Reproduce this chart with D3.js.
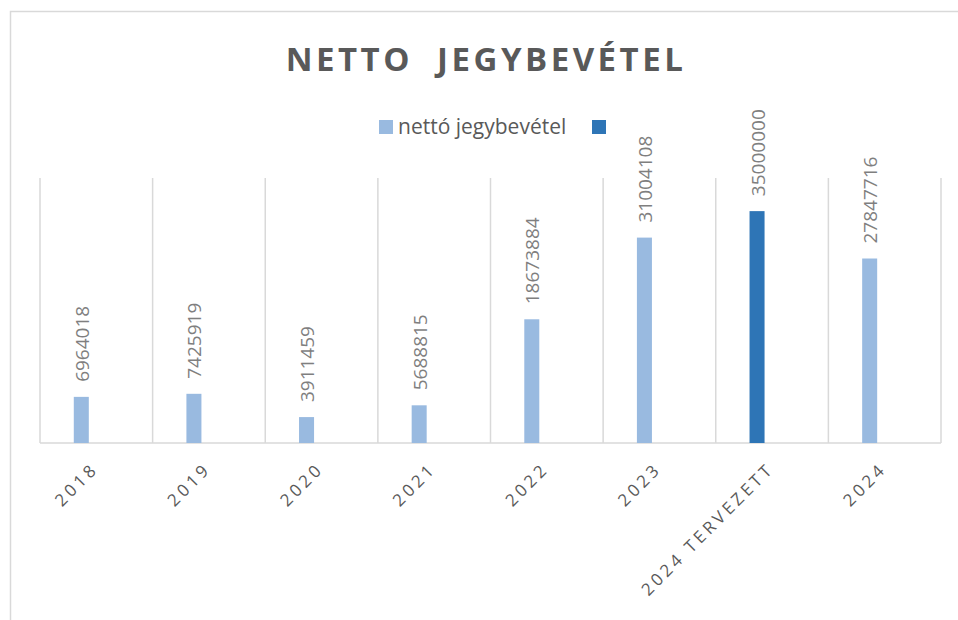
<!DOCTYPE html>
<html>
<head>
<meta charset="utf-8">
<script src="https://cdn.jsdelivr.net/npm/d3@7"></script>
<style>
  body { margin: 0; background: #fff; }
  svg { display: block; font-family: "Open Sans", "Liberation Sans", sans-serif; }
</style>
</head>
<body>
<svg id="chart" width="958" height="620"></svg>
<script>
// adatok
var categories = ["2018", "2019", "2020", "2021", "2022", "2023", "2024 TERVEZETT", "2024"];
var values = [6964018, 7425919, 3911459, 5688815, 18673884, 31004108, 35000000, 27847716];
var planned = "2024 TERVEZETT";
var seriesNames = ["nettó jegybevétel", ""];

var colLight = "#99bae0", colDark = "#2e75b6", gridCol = "#d9d9d9";

var svg = d3.select("#chart");
var plot = {left: 40, right: 941, top: 178, bottom: 443};

// outer frame
svg.append("rect")
  .attr("x", 10.5).attr("y", 11.5)
  .attr("width", 1000).attr("height", 1000)
  .attr("fill", "none").attr("stroke", gridCol).attr("stroke-width", 1.5);

var x = d3.scaleBand().domain(categories).range([plot.left, plot.right]).padding(0);
// 3 slots per category, bar sits in the first one
var xs = d3.scaleBand().domain(["s1", "s2", "s3"]).range([0, x.bandwidth()])
  .paddingInner(0).paddingOuter(2.25);
var y = d3.scaleLinear().domain([0, 40000000]).range([plot.bottom, plot.top]);

// vertical gridlines between categories
var edges = categories.map(function(c){ return x(c); }).concat([plot.right]);
svg.append("g").selectAll("line")
  .data(edges)
  .enter().append("line")
  .attr("x1", function(d){ return d; }).attr("x2", function(d){ return d; })
  .attr("y1", plot.top).attr("y2", plot.bottom)
  .attr("stroke", gridCol).attr("stroke-width", 1.5);

svg.append("line")
  .attr("x1", plot.left).attr("x2", plot.right)
  .attr("y1", plot.bottom).attr("y2", plot.bottom)
  .attr("stroke", gridCol).attr("stroke-width", 1.5);

// bars
svg.append("g").selectAll("rect")
  .data(values)
  .enter().append("rect")
  .attr("x", function(d, i){ return x(categories[i]) + xs("s1"); })
  .attr("width", xs.bandwidth())
  .attr("y", function(d){ return y(d); })
  .attr("height", function(d){ return y(0) - y(d); })
  .attr("fill", function(d, i){ return categories[i] == planned ? colDark : colLight; });

// data labels (rotated)
svg.append("g").selectAll("text")
  .data(values)
  .enter().append("text")
  .attr("transform", function(d, i){
    var cx = x(categories[i]) + xs("s1") + xs.bandwidth() / 2;
    return "translate(" + (cx + 7.5) + "," + (y(d) - 15) + ") rotate(-90)";
  })
  .attr("font-size", 19)
  .attr("fill", "#7f7f7f")
  .text(function(d){ return d; });

// x axis labels
svg.append("g").selectAll("text")
  .data(categories)
  .enter().append("text")
  .attr("transform", function(d){
    return "translate(" + (x(d) + x.bandwidth() / 2 + 3) + "," + 470 + ") rotate(-45)";
  })
  .attr("text-anchor", "end")
  .attr("font-size", 17)
  .attr("letter-spacing", 3.5)
  .attr("fill", "#595959")
  .text(function(d){ return d; });

// title
svg.append("text")
  .attr("x", 486).attr("y", 71)
  .attr("text-anchor", "middle")
  .attr("font-size", 33).attr("font-weight", "bold")
  .attr("letter-spacing", 3.5)
  .attr("fill", "#595959")
  .attr("xml:space", "preserve")
  .text("NETTO  JEGYBEVÉTEL");

// legend
var leg = svg.append("g");
leg.append("rect").attr("x", 379).attr("y", 120).attr("width", 14).attr("height", 14).attr("fill", colLight);
leg.append("text").attr("x", 398).attr("y", 134)
  .attr("font-size", 21).attr("fill", "#595959").text(seriesNames[0]);
leg.append("rect").attr("x", 592).attr("y", 120).attr("width", 14).attr("height", 14).attr("fill", colDark);
</script>
</body>
</html>
